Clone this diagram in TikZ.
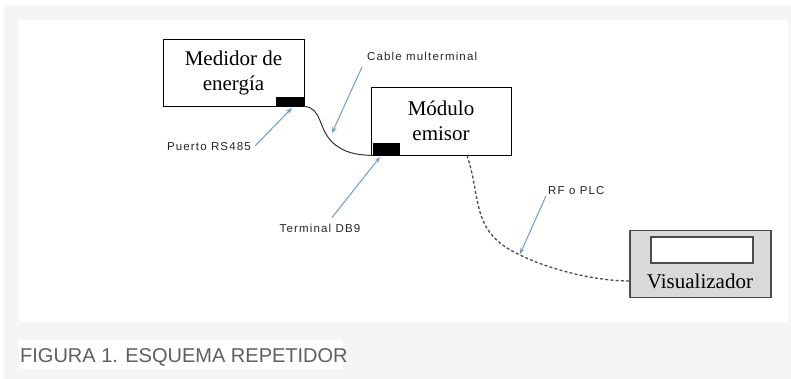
\documentclass[tikz,border=0pt]{standalone}
\usepackage{fontspec}
\setmainfont{Liberation Serif}
\newfontfamily\labelfont[LetterSpace=10]{Liberation Sans}
\newfontfamily\captionfont{Liberation Sans}
\usepackage{tikz}
\usetikzlibrary{positioning}
\usetikzlibrary{arrows.meta}

\definecolor{bggray}{RGB}{245,245,245}
\definecolor{pointblue}{RGB}{108,158,204}
\definecolor{boxgray}{RGB}{217,217,217}
\definecolor{captiongray}{RGB}{95,95,95}

\begin{document}
\begin{tikzpicture}[x=1pt, y=-1pt,
                          devicenode/.style={rectangle, draw, thick, fill=white, minimum width=141pt, minimum height=67pt, align=center, font=\fontsize{21}{25}\selectfont},
                          portnode/.style={rectangle, fill=black, inner sep=0pt},
                          labelnode/.style={inner sep=0pt, font=\labelfont\fontsize{11.5}{13}\selectfont, text=black!85},
                          pointer/.style={draw=pointblue, line width=1pt, -{Stealth[length=6pt, width=4.5pt]}},
                      ]
                      %Background
                      \fill[white] (0,0) rectangle (791,379);
                      \fill[bggray] (4,5) rectangle (791,379);
                      \fill[white] (19,20) rectangle (788,322);
                      \fill[white] (19,340) rectangle (343,369);

                      %Nodes
                      \node[devicenode]     (medidor)   at (233.5,72.5)   {Medidor de\\energía};
                      \node[portnode, minimum width=28pt, minimum height=9pt]  (rs485)  [anchor=south east] at (medidor.south east) {};
                      \node[devicenode, minimum width=140pt, minimum height=68pt]  (modulo)  at (441,121)  {Módulo\\emisor};
                      \node[portnode, minimum width=27pt, minimum height=12pt]  (db9)  [anchor=south west] at ([xshift=2pt]modulo.south west) {};
                      \node[devicenode, fill=boxgray, draw=black!70, line width=1.6pt]  (visual)  at (700.5,264)  {};
                      \node[rectangle, draw=black!70, line width=1.2pt, fill=white, minimum width=102pt, minimum height=26pt]  (pantalla)  at (702,250)  {};
                      \node[font=\fontsize{21}{25}\selectfont, inner sep=0pt]  (vistext)  [anchor=base] at (700,288)  {Visualizador};

                      %Labels
                      \node[labelnode, anchor=west]   (cable)    at (367,56)    {Cable multerminal};
                      \node[labelnode, anchor=east]   (puerto)   at (251,147)   {Puerto RS485};
                      \node[labelnode]                (terminal) at (320,228)   {Terminal DB9};
                      \node[labelnode, anchor=west]   (rfplc)    at (548,191)   {RF o PLC};

                      %Lines
                      \draw[line width=1pt, black!80] (rs485.south east) .. controls (322,108) and (318,128) .. (332,142)
                                    .. controls (344,153) and (356,155) .. (db9.south west);
                      \draw[line width=1.3pt, black!70, dash pattern=on 3pt off 2.2pt] ([xshift=26pt]modulo.south)
                                    .. controls (482,200) and (470,232) .. (520,255)
                                    .. controls (555,272) and (600,281) .. ([yshift=-17pt]visual.west);

                      %Pointers
                      \draw[pointer] (362,67) -- (332,133);
                      \draw[pointer] (puerto.east) ++(4,-1) -- (292,108);
                      \draw[pointer] (terminal.north) ++(12,-6) -- (380,157);
                      \draw[pointer] (rfplc.west) ++(-2,5) -- (520,254);

                      %Caption
                      \node[font=\captionfont\fontsize{20}{24}\selectfont, text=captiongray, inner sep=0pt]  (caption)  [anchor=base west] at (20,362)  {FIGURA 1. ESQUEMA REPETIDOR};
                  \end{tikzpicture}
\end{document}
